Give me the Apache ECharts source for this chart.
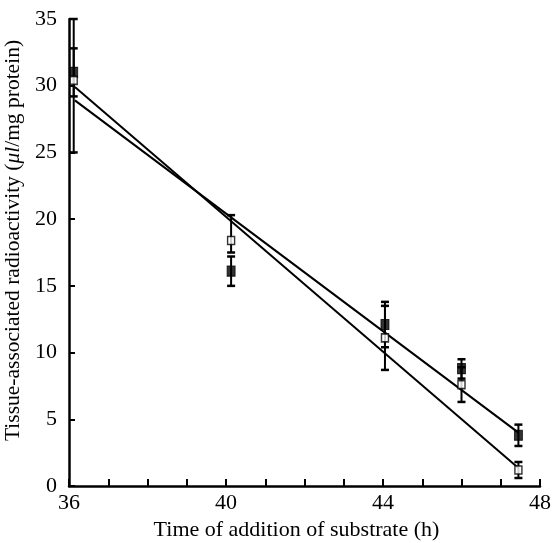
<!DOCTYPE html>
<html><head><meta charset="utf-8">
<script src="https://cdn.jsdelivr.net/npm/echarts@6/dist/echarts.min.js"></script>
<style>html,body{margin:0;padding:0;background:#fff}#c{width:554px;height:543px}</style>
</head><body><div id="c"></div>
<script>
// Time of addition of substrate (h)
const times = [36.12, 40.13, 44.05, 46.0, 47.45];
// Filled squares
const filledMean = [31.0, 16.1, 12.1, 8.8, 3.8];
const filledLow  = [29.2, 15.0, 10.4, 8.05, 3.0];
const filledHigh = [32.8, 17.2, 13.8, 9.5, 4.6];
// Open squares
const openMean = [30.4, 18.4, 11.1, 7.6, 1.2];
const openLow  = [25.0, 17.5, 8.7, 6.3, 0.6];
const openHigh = [35.0, 20.3, 13.5, 8.9, 1.8];
// Regression lines
const fitX = [36.15, 47.45];
const filledFit = [28.9, 4.0];
const openFit = [29.9, 1.35];
// Tick labels
const xTickLabels = [36, 40, 44, 48];
const yTickLabels = [0, 5, 10, 15, 20, 25, 30, 35];

const FONT = '"Liberation Serif", "DejaVu Serif", serif';
const chart = echarts.init(document.getElementById('c'));

function errRender(params, api) {
  const x = api.value(0), lo = api.value(1), hi = api.value(2);
  const a = api.coord([x, lo]), b = api.coord([x, hi]);
  const w = 4;
  const st = {stroke: '#000', lineWidth: 2};
  return {type: 'group', children: [
    {type: 'line', shape: {x1: a[0], y1: a[1], x2: b[0], y2: b[1]}, style: st},
    {type: 'line', shape: {x1: a[0] - w, y1: a[1], x2: a[0] + w, y2: a[1]}, style: {stroke: '#000', lineWidth: 2.5}},
    {type: 'line', shape: {x1: b[0] - w, y1: b[1], x2: b[0] + w, y2: b[1]}, style: {stroke: '#000', lineWidth: 2.5}}
  ]};
}

const filledErr = times.map((t, i) => [t, filledLow[i], filledHigh[i]]);
const openErr = times.map((t, i) => [t, openLow[i], openHigh[i]]);

chart.setOption({
  animation: false,
  backgroundColor: '#fff',
  grid: {left: 69, right: 14, top: 19, bottom: 57, containLabel: false, outerBoundsMode: 'none'},
  xAxis: {
    type: 'value', min: 36, max: 48, interval: 1,
    name: 'Time of addition of substrate (h)',
    nameLocation: 'middle', nameGap: 33,
    nameTextStyle: {fontFamily: FONT, fontSize: 22, color: '#000', padding: [0, 16, 0, 0]},
    axisLine: {lineStyle: {color: '#000', width: 2.5}},
    axisTick: {inside: true, length: 7, lineStyle: {color: '#000', width: 2}},
    axisLabel: {fontFamily: FONT, fontSize: 22, color: '#000', margin: 6,
      formatter: v => xTickLabels.includes(v) ? String(v) : ''},
    splitLine: {show: false}
  },
  yAxis: {
    type: 'value', min: 0, max: 35, interval: 5,
    name: '{a|Tissue-associated radioactivity (}{i|μl}{a|/mg protein)}',
    nameLocation: 'middle', nameGap: 44, nameRotate: 90,
    nameTextStyle: {fontFamily: FONT, fontSize: 21.5, color: '#000', padding: [0, 0, 0, 24],
      rich: {a: {fontFamily: FONT, fontSize: 21.5, color: '#000'},
             i: {fontFamily: FONT, fontSize: 21.5, color: '#000', fontStyle: 'italic'}}},
    axisLine: {lineStyle: {color: '#000', width: 2.5}},
    axisTick: {inside: true, length: 6, lineStyle: {color: '#000', width: 2}},
    axisLabel: {fontFamily: FONT, fontSize: 22, color: '#000', margin: 12,
      formatter: v => yTickLabels.includes(v) ? String(v) : ''},
    splitLine: {show: false}
  },
  series: [
    {type: 'line', data: fitX.map((x, i) => [x, filledFit[i]]), symbol: 'none',
     lineStyle: {color: '#000', width: 2}, z: 2},
    {type: 'line', data: fitX.map((x, i) => [x, openFit[i]]), symbol: 'none',
     lineStyle: {color: '#000', width: 2}, z: 2},
    {type: 'custom', renderItem: errRender, data: filledErr, z: 3},
    {type: 'custom', renderItem: errRender, data: openErr, z: 3},
    {type: 'scatter', data: times.map((t, i) => [t, filledMean[i]]), symbol: 'rect',
     symbolSize: [8, 10], itemStyle: {color: '#000', borderColor: '#000', borderWidth: 1}, z: 5},
    {type: 'scatter', data: times.map((t, i) => [t, openMean[i]]), symbol: 'rect',
     symbolSize: [7, 8], itemStyle: {color: '#fff', borderColor: '#000', borderWidth: 1.5}, z: 6}
  ]
});
</script></body></html>
